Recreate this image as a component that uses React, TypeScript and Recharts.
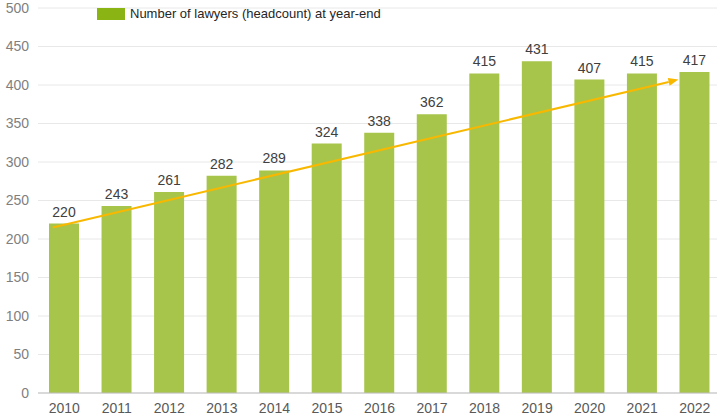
import React from "react";
import {
  ComposedChart,
  Bar,
  XAxis,
  YAxis,
  CartesianGrid,
  LabelList,
  ReferenceLine,
  Legend,
} from "recharts";

const years = ["2010", "2011", "2012", "2013", "2014", "2015", "2016", "2017", "2018", "2019", "2020", "2021", "2022"];
const lawyers = [220, 243, 261, 282, 289, 324, 338, 362, 415, 431, 407, 415, 417];
const yTicks = [0, 50, 100, 150, 200, 250, 300, 350, 400, 450, 500];
const xTicks = years.map((_, i) => i);
// trend arrow endpoints: position along the year axis (index units) and value
const trendStart = { x: -0.22, y: 215 };
const trendEnd = { x: 11.69, y: 407 };
const seriesName = "Number of lawyers (headcount) at year-end";

const data = years.map((year, i) => ({ idx: i, year, value: lawyers[i] }));

const FONT = "'Liberation Sans', Arial, sans-serif";
const BAR = "#a7c54a";
const TREND = "#f9b800";

const Arrow = (props: any) => {
  const { x1, y1, x2, y2 } = props;
  const ang = Math.atan2(y2 - y1, x2 - x1);
  const len = 10;
  const w = 4;
  const bx = x2 - len * Math.cos(ang);
  const by = y2 - len * Math.sin(ang);
  const px = -Math.sin(ang) * w;
  const py = Math.cos(ang) * w;
  return (
    <g>
      <line x1={x1} y1={y1} x2={bx} y2={by} stroke={TREND} strokeWidth={2} />
      <polygon points={`${x2},${y2} ${bx + px},${by + py} ${bx - px},${by - py}`} fill={TREND} />
    </g>
  );
};

const LegendContent = () => (
  <div style={{ display: "flex", alignItems: "center", fontFamily: FONT, fontSize: 13, color: "#262626", whiteSpace: "nowrap" }}>
    <span style={{ display: "inline-block", width: 28, height: 12, background: "#8ab414", marginRight: 5 }} />
    <span>{seriesName}</span>
  </div>
);

export default function App() {
  return (
    <div style={{ position: "absolute", left: 0, top: 0, width: 717, height: 417, overflow: "hidden", background: "#fff" }}>
      <ComposedChart width={721} height={417} data={data} margin={{ top: 8, right: 0, bottom: 0, left: 0 }}>
        <CartesianGrid vertical={false} stroke="#e8e8e8" />
        <XAxis
          dataKey="idx"
          type="number"
          domain={[-0.5, 12.5]}
          allowDataOverflow
          ticks={xTicks}
          tickFormatter={(v: number) => years[v]}
          height={24}
          tickLine={false}
          axisLine={{ stroke: "#bfbfbf" }}
          tickMargin={4}
          tick={{ fill: "#595959", fontSize: 14, fontFamily: FONT }}
          interval={0}
        />
        <YAxis
          width={38}
          domain={[0, 500]}
          ticks={yTicks}
          tickLine={false}
          axisLine={false}
          tickMargin={3}
          tick={{ fill: "#7f7f7f", fontSize: 14, fontFamily: FONT }}
        />
        <Legend
          verticalAlign="middle"
          align="center"
          content={<LegendContent />}
          wrapperStyle={{ position: "absolute", top: 6, left: 97, width: 400, height: 16 }}
        />
        <Bar dataKey="value" name={seriesName} fill={BAR} barSize={30} isAnimationActive={false}>
          <LabelList dataKey="value" position="top" offset={7} fill="#404040" fontSize={14} fontFamily={FONT} />
        </Bar>
        <ReferenceLine segment={[trendStart, trendEnd]} shape={Arrow} ifOverflow="visible" />
      </ComposedChart>
    </div>
  );
}
